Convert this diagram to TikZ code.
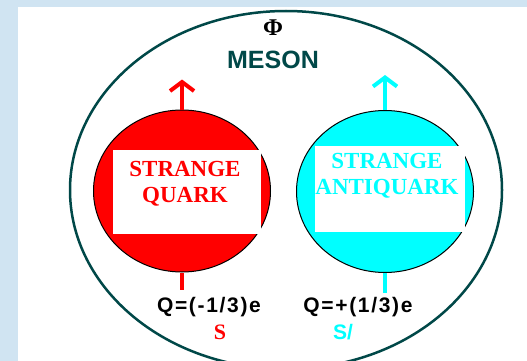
\documentclass[tikz,border=0pt]{standalone}
\usepackage{fontspec}
\setmainfont{Liberation Serif}
\setsansfont{Liberation Sans}
\newfontfamily\chargefont{Liberation Sans}[LetterSpace=8]
\usetikzlibrary{positioning,arrows.meta,shapes.geometric}
\definecolor{PageBlue}{RGB}{208,228,242}
\definecolor{MesonTeal}{RGB}{0,72,72}
\definecolor{QuarkRed}{RGB}{255,0,0}
\definecolor{QuarkCyan}{RGB}{0,255,255}

\begin{document}
\begin{tikzpicture}[
	x=1pt,y=-1pt,
	quark/.style={
		ellipse,
		draw=black,
		line width=1pt,
		minimum width=177pt,
		minimum height=162pt,
		inner sep=0pt
	},
	namebox/.style={
		fill=white,
		minimum width=148pt,
		minimum height=84pt,
		inner sep=0pt
	},
	nametext/.style={
		align=center,
		inner sep=0pt,
		font=\bfseries\fontsize{23}{26}\selectfont
	},
	spin/.style={
		line width=4pt,
		-{Straight Barb[length=9pt,width=24pt]}
	},
	stub/.style={
		line width=4pt
	},
	charge/.style={
		inner sep=0pt,
		font=\chargefont\bfseries\fontsize{21}{23}\selectfont
	},
	flavour/.style={
		inner sep=0pt,
		font=\bfseries\fontsize{22}{24}\selectfont
	}
	]
	
	\useasboundingbox (0,0) rectangle (527,361);
	\fill[PageBlue] (0,0) rectangle (527,361);
	\fill[white] (18,7) rectangle (527,361);
	
	% meson ring, cut by the page
	\begin{scope}
		\clip (18,7) rectangle (527,361);
		\node[
		ellipse,
		draw=MesonTeal,
		line width=2.5pt,
		minimum width=432pt,
		minimum height=358pt
		]
		(M) at (286,190) {};
	\end{scope}
	
	\node[
	inner sep=0pt,
	font=\bfseries\fontsize{24}{26}\selectfont
	]
	(phi) at (273,28) {Φ};
	
	\node[
	inner sep=0pt,
	text=MesonTeal,
	font=\sffamily\bfseries\fontsize{25}{27}\selectfont
	]
	(mes) at (273,60) {MESON};
	
	% quark
	\node[quark,fill=QuarkRed] (Q) at (182,191) {};
	\node[namebox] (QB) at (187,191.5) {};
	\node[nametext,text=QuarkRed] (QT) at (185,184) {STRANGE\\QUARK};
	
	% antiquark
	\node[quark,fill=QuarkCyan] (A) at (385,191.5) {};
	\node[namebox,minimum width=150pt,minimum height=86pt] (AB) at (390,189) {};
	\node[nametext,text=QuarkCyan] (AT) at (387,176) {STRANGE\\ANTIQUARK};
	
	\coordinate[above=30pt of Q.north] (Qup);
	\coordinate[below=17pt of Q.south] (Qdown);
	\coordinate[above=35pt of A.north] (Aup);
	\coordinate[below=20pt of A.south] (Adown);
	
	\draw[spin,QuarkRed] (Q.north) -- (Qup);
	\draw[stub,QuarkRed] (Q.south) -- (Qdown);
	\draw[spin,QuarkCyan] (A.north) -- (Aup);
	\draw[stub,QuarkCyan] (A.south) -- (Adown);
	
	\node[charge] (Qq) at (209,307) {Q=(-1/3)e};
	\node[charge] (Aq) at (358,307) {Q=+(1/3)e};
	
	\node[flavour,text=QuarkRed] (Qs) at (220,332) {S};
	\node[flavour,text=QuarkCyan,font=\sffamily\bfseries\fontsize{21}{23}\selectfont] (As) at (343,332) {S/};
	
\end{tikzpicture}
\end{document}
